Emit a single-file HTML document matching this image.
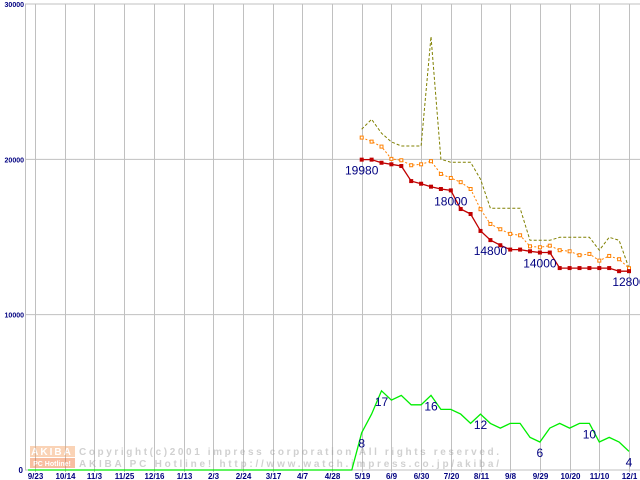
<!DOCTYPE html>
<html><head><meta charset="utf-8"><style>
html,body{margin:0;padding:0;background:#fff;}
svg{display:block;}
text{font-family:"Liberation Sans","DejaVu Sans",sans-serif;}
</style></head><body>
<svg id="chart" width="640" height="480" viewBox="0 0 640 480" xmlns="http://www.w3.org/2000/svg">
<g id="grid"></g>
<g id="watermark" opacity="0.45">
  <rect x="30" y="446" width="45" height="11" fill="#f5a060"/>
  <text x="52" y="455" font-size="10" font-weight="bold" fill="#fff" text-anchor="middle" letter-spacing="2">AKIBA</text>
  <rect x="30" y="458" width="45" height="10" fill="#f07030"/>
  <text x="52" y="466" font-size="7" font-weight="bold" fill="#fff" text-anchor="middle">PC Hotline!</text>
  <text x="79" y="455" font-size="10" font-weight="bold" fill="#999" font-family="Liberation Mono, monospace" textLength="420">Copyright(c)2001 impress corporation All rights reserved.</text>
  <text x="79" y="467" font-size="10" font-weight="bold" fill="#999" font-family="Liberation Mono, monospace" textLength="420">AKIBA PC Hotline!  http://www.watch.impress.co.jp/akiba/</text>
</g>
<g id="series"></g>
<g id="labels"></g>
</svg>
<script>
const xLabels = ["9/23","10/14","11/3","11/25","12/16","1/13","2/3","2/24","3/17","4/7","4/28","5/19","6/9","6/30","7/20","8/11","9/8","9/29","10/20","11/10","12/1"];
const yTicks = [0,10000,20000,30000];
const minPrice = [19980,19980,19780,19680,19570,18600,18430,18240,18090,18000,16800,16480,15390,14800,14470,14190,14190,14080,14000,14000,13000,13000,13000,13000,13000,13000,12800,12800];
const avgPrice = [21400,21140,20820,20030,19940,19620,19680,19880,19060,18800,18530,18090,16790,15840,15500,15200,15110,14400,14340,14440,14150,14080,13830,13910,13480,13780,13570,12990];
const maxPrice = [21940,22580,21680,21120,20860,20860,20860,27900,20010,19810,19810,19810,18720,16850,16850,16850,16850,14790,14790,14790,14980,14980,14980,14980,14150,14980,14790,12990];
const shopCount = [8,12,17,15,16,14,14,16,13,13,12,10,12,10,9,10,10,7,6,9,10,9,10,10,6,7,6,4];
const minLabelIdx = [0,9,13,18,27];
const countLabelIdx = [0,2,7,12,18,23,27];
const startWeek = 33; // weeks from 9/23 to 5/19

const NS="http://www.w3.org/2000/svg";
const x0=35, gridStep=29.7, yBase=470, yScale=466/30000;
function xWeek(w){return x0+w*gridStep/3;}
function y(v){return yBase-v*yScale;}
function mk(tag,attrs,parent){const e=document.createElementNS(NS,tag);for(const k in attrs)e.setAttribute(k,attrs[k]);parent.appendChild(e);return e;}
const grid=document.getElementById('grid'), ser=document.getElementById('series'), lab=document.getElementById('labels');

// horizontal gridlines and y ticks
yTicks.forEach(t=>{
  const l=mk('line',{x1:25,x2:640,y1:y(t),y2:y(t),stroke:'#c0c0c0','stroke-width':1},grid);
  
  
  const tx=mk('text',{x:t===0?23:24,y:y(t)+3,'font-size':t===0?8:7,'font-weight':'bold',fill:'#000080','text-anchor':'end'},grid);
  tx.textContent=String(t);
  
  
});
// y axis
const ax=mk('line',{x1:25.5,x2:25.5,y1:4,y2:470,stroke:'#c0c0c0'},grid);


// vertical gridlines & x labels
xLabels.forEach((s,i)=>{
  const xx=Math.round(x0+i*gridStep)+0.5;
  const l=mk('line',{x1:xx,x2:xx,y1:4,y2:472,stroke:'#c0c0c0','stroke-width':1},grid);
  
  
  const tx=mk('text',{x:xx,y:479,'font-size':8,'font-weight':'bold',fill:'#000080','text-anchor':'middle'},grid);
  tx.textContent=s;
  
  
});

function pts(arr,scale){return arr.map((v,i)=>[xWeek(startWeek+i),y(v*scale)]);}
function poly(p){return p.map(q=>q[0].toFixed(1)+','+q[1].toFixed(1)).join(' ');}

// count line (green) with zero baseline before
const cp=pts(shopCount,300);
const zeroStart=[[28,yBase],[xWeek(startWeek-1),yBase]];
const g=mk('polyline',{points:poly(zeroStart.concat(cp)),fill:'none',stroke:'#00ee00','stroke-width':1.3},ser);



// max (olive dashed)
const mx=mk('polyline',{points:poly(pts(maxPrice,1)),fill:'none',stroke:'#808000','stroke-width':1,'stroke-dasharray':'3,2'},ser);



// avg (orange dotted with hollow squares)
const ap=pts(avgPrice,1);
const av=mk('polyline',{points:poly(ap),fill:'none',stroke:'#ff8000','stroke-width':1,'stroke-dasharray':'2,2'},ser);


ap.forEach(p=>{
  const r=mk('rect',{x:p[0]-1.5,y:p[1]-1.5,width:3,height:3,fill:'#fff',stroke:'#ff8000','stroke-width':1},ser);
  
  
});

// min (red with filled squares)
const mp=pts(minPrice,1);
const mn=mk('polyline',{points:poly(mp),fill:'none',stroke:'#c00000','stroke-width':1.3},ser);


mp.forEach(p=>{
  const r=mk('rect',{x:p[0]-2,y:p[1]-2,width:4,height:4,fill:'#c00000'},ser);
  
  
});

// labels
minLabelIdx.forEach(i=>{
  const t=mk('text',{x:mp[i][0],y:mp[i][1]+15,'font-size':12,fill:'#000080','text-anchor':'middle'},lab);
  t.textContent=String(minPrice[i]);
  
  
});
countLabelIdx.forEach(i=>{
  const t=mk('text',{x:cp[i][0],y:cp[i][1]+15,'font-size':12,fill:'#000080','text-anchor':'middle'},lab);
  t.textContent=String(shopCount[i]);
  
  
});
</script>
</body></html>
